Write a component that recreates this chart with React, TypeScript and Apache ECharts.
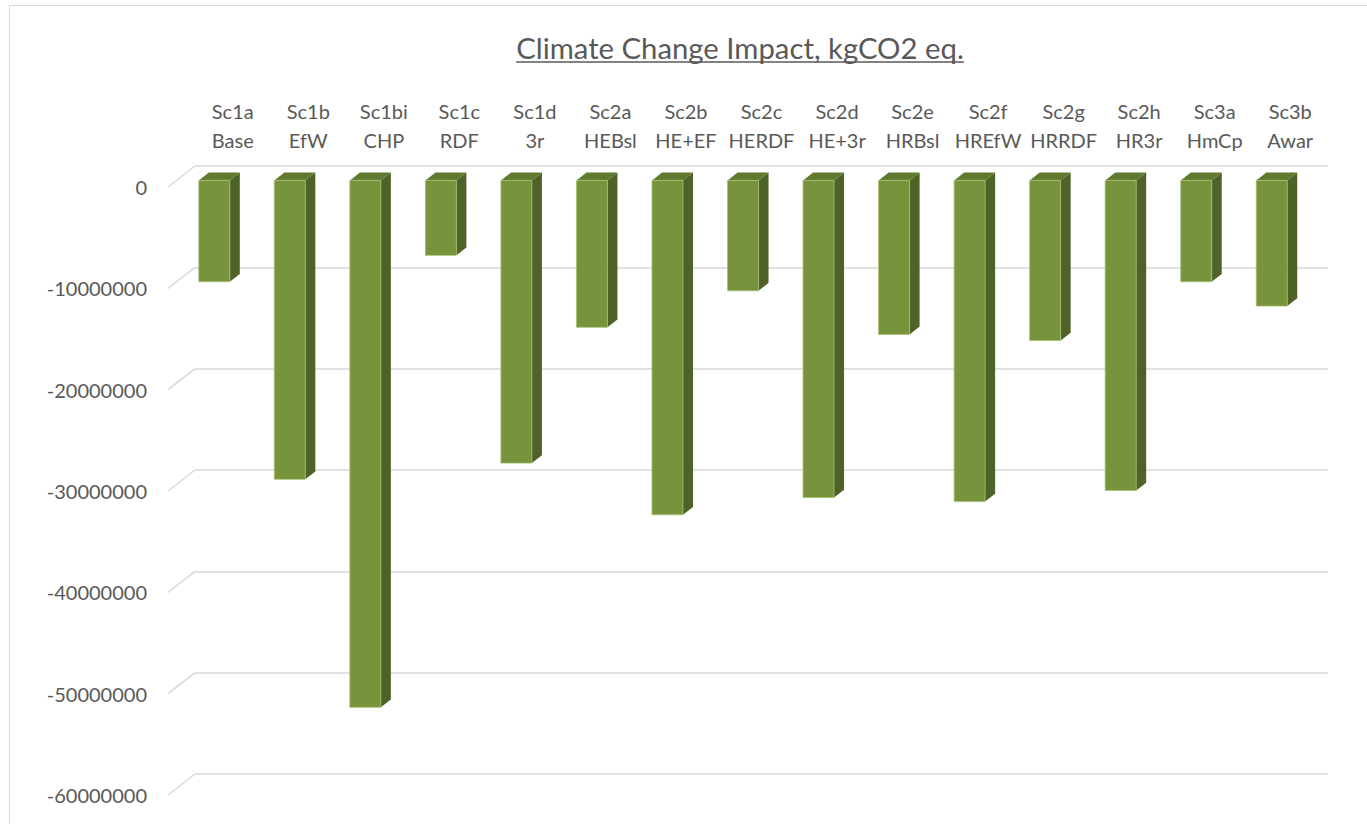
import React, { useEffect, useRef } from "react";
import * as echarts from "echarts";

const codes = ["Sc1a", "Sc1b", "Sc1bi", "Sc1c", "Sc1d", "Sc2a", "Sc2b", "Sc2c", "Sc2d", "Sc2e", "Sc2f", "Sc2g", "Sc2h", "Sc3a", "Sc3b"];
const names = ["Base", "EfW", "CHP", "RDF", "3r", "HEBsl", "HE+EF", "HERDF", "HE+3r", "HRBsl", "HREfW", "HRRDF", "HR3r", "HmCp", "Awar"];
const impact = [
  -10000000, -29500000, -52000000, -7400000, -27900000, -14500000, -33000000, -10900000,
  -31300000, -15200000, -31700000, -15800000, -30600000, -10000000, -12400000,
];
const yTicks = [0, -10000000, -20000000, -30000000, -40000000, -50000000, -60000000];
const titleText = "Climate Change Impact, kgCO2 eq.";

const FONT = "Lato, 'Open Sans', sans-serif";
const TEXT = "#595959";
const GRID = "#d9d9d9";
const DEPTH_X = 27;
const DEPTH_Y = 21;

export default function App() {
  const ref = useRef<HTMLDivElement>(null);

  useEffect(() => {
    document.body.style.margin = "0";
    if (!ref.current) return;
    const chart = echarts.init(ref.current, undefined, { renderer: "svg" });

    const titleSize = 29.3;
    let titleW = 446;
    try {
      const ctx = document.createElement("canvas").getContext("2d");
      if (ctx) {
        ctx.font = `${titleSize}px Lato`;
        titleW = ctx.measureText(titleText).width;
      }
    } catch (e) {}
    const titleCx = 740;

    const categories = codes.map((c, i) => `${c}\n${names[i]}`);

    const option: any = {
      animation: false,
      backgroundColor: "#ffffff",
      grid: [
        { left: 168, top: 187, width: 1133, height: 608, outerBoundsMode: "none" },
        { left: 195, top: 166, width: 1133, height: 608, outerBoundsMode: "none" },
      ],
      xAxis: [
        { type: "category", gridIndex: 0, data: categories, show: false },
        {
          type: "category",
          gridIndex: 1,
          data: categories,
          position: "top",
          axisLine: { show: false },
          axisTick: { show: false },
          splitLine: { show: false },
          axisLabel: {
            interval: 0,
            margin: 12,
            color: TEXT,
            fontFamily: FONT,
            fontSize: 20,
            lineHeight: 29,
          },
        },
      ],
      yAxis: [
        {
          type: "value",
          gridIndex: 0,
          min: -60000000,
          max: 0,
          interval: 10000000,
          axisLine: { show: false },
          axisTick: { show: false },
          splitLine: { show: false },
          axisLabel: {
            margin: 21,
            color: TEXT,
            fontFamily: FONT,
            fontSize: 20,
            formatter: (v: number) => String(v),
          },
        },
        {
          type: "value",
          gridIndex: 1,
          min: -60000000,
          max: 0,
          interval: 10000000,
          axisLine: { show: false },
          axisTick: { show: false },
          axisLabel: { show: false },
          splitLine: { show: true, lineStyle: { color: GRID, width: 1.5 } },
        },
      ],
      graphic: [
        {
          type: "rect",
          shape: { x: 9.5, y: 5.5, width: 1400, height: 900 },
          style: { fill: "none", stroke: GRID, lineWidth: 1 },
          silent: true,
        },
        {
          type: "text",
          x: titleCx,
          y: 47,
          style: {
            text: titleText,
            fill: TEXT,
            font: `${titleSize}px ${FONT}`,
            align: "center",
            verticalAlign: "middle",
          },
        },
        {
          type: "line",
          shape: { x1: titleCx - titleW / 2, y1: 62, x2: titleCx + titleW / 2, y2: 62 },
          style: { stroke: TEXT, lineWidth: 1.5 },
        },
      ],
      series: [
        {
          type: "custom",
          xAxisIndex: 0,
          yAxisIndex: 0,
          z: 1,
          silent: true,
          data: yTicks.map((v) => [0, v]),
          encode: { x: 0, y: 1 },
          renderItem: (params: any, api: any) => {
            const y = api.coord([0, api.value(1)])[1];
            const x = params.coordSys.x;
            return {
              type: "line",
              shape: { x1: x, y1: y, x2: x + DEPTH_X, y2: y - DEPTH_Y },
              style: { stroke: GRID, lineWidth: 1.5 },
            };
          },
        },
        {
          type: "custom",
          xAxisIndex: 0,
          yAxisIndex: 0,
          z: 5,
          data: impact.map((v, i) => [i, v]),
          encode: { x: 0, y: 1 },
          renderItem: (params: any, api: any) => {
            const i = api.value(0);
            const v = api.value(1);
            const p0 = api.coord([i, 0]);
            const p1 = api.coord([i, v]);
            const band = api.size([1, 0])[0];
            const bw = band * 0.41;
            const dx = band * 0.133;
            const dy = dx * (DEPTH_Y / DEPTH_X);
            const off = DEPTH_X * 0.315;
            const offY = DEPTH_Y * 0.315;
            const fx = p0[0] + off - bw / 2;
            const yt = p0[1] - offY;
            const yb = p1[1] - offY;
            return {
              type: "group",
              children: [
                {
                  type: "polygon",
                  shape: {
                    points: [
                      [fx + bw, yt],
                      [fx + bw + dx, yt - dy],
                      [fx + bw + dx, yb - dy],
                      [fx + bw, yb],
                    ],
                  },
                  style: { fill: "#4f6228" },
                },
                {
                  type: "polygon",
                  shape: {
                    points: [
                      [fx, yt],
                      [fx + dx, yt - dy],
                      [fx + bw + dx, yt - dy],
                      [fx + bw, yt],
                    ],
                  },
                  style: { fill: "#5f7a2f" },
                },
                {
                  type: "rect",
                  shape: { x: fx, y: yt, width: bw, height: yb - yt },
                  style: { fill: "#77933c", stroke: "#a4bf6e", lineWidth: 0.8 },
                },
              ],
            };
          },
        },
      ],
    };

    chart.setOption(option);
    return () => chart.dispose();
  }, []);

  return (
    <div
      ref={ref}
      style={{ position: "fixed", left: 0, top: 0, width: 1367, height: 824 }}
    />
  );
}
